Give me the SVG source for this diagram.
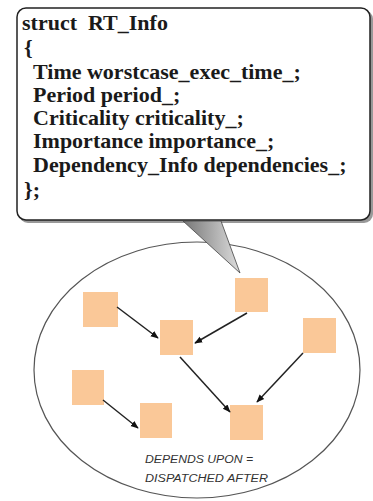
<svg xmlns="http://www.w3.org/2000/svg" width="373" height="501" viewBox="0 0 373 501">
<defs>
<style>
.code{font-family:"Liberation Serif","Times New Roman",serif;font-weight:bold;font-size:22px;fill:#1a1a1a}
.task{fill:#FAC898}
.conn{stroke:#222;stroke-width:1.5;fill:none;marker-end:url(#ah)}
.note{font-family:"Liberation Sans",Arial,sans-serif;font-style:italic;font-size:10px;fill:#333}
</style>
<marker id="ah" viewBox="0 0 10 10" refX="9" refY="5" markerWidth="8" markerHeight="8" orient="auto" markerUnits="userSpaceOnUse">
<path d="M0,1 L10,5 L0,9 z" fill="#111"/>
</marker>
<linearGradient id="tailg" x1="0" y1="0" x2="1" y2="0">
<stop offset="0" stop-color="#777"/>
<stop offset="0.5" stop-color="#aaa"/>
<stop offset="1" stop-color="#ddd"/>
</linearGradient>
</defs>
<rect width="373" height="501" fill="#fff"/>
<g id="cluster">
<ellipse cx="197" cy="370" rx="163" ry="128" fill="none" stroke="#555" stroke-width="1.2"/>
<text class="note" x="145" y="463" textLength="108" lengthAdjust="spacingAndGlyphs">DEPENDS UPON =</text>
<text class="note" x="145" y="482" textLength="123" lengthAdjust="spacingAndGlyphs">DISPATCHED AFTER</text>
</g>
<g id="callout">
<rect x="19" y="10" width="354" height="213" rx="9" fill="#999"/>
<rect x="17" y="8" width="353" height="212" rx="9" fill="#fff" stroke="#222" stroke-width="1.5"/>
<path d="M183,221 L221,221 L240,273 Z" fill="url(#tailg)" stroke="#444" stroke-width="0.8"/>
<text class="code" x="22" y="30">struct&#160; RT_Info</text>
<text class="code" x="24" y="55">{</text>
<text class="code" x="33" y="79">Time worstcase_exec_time_;</text>
<text class="code" x="33" y="102">Period period_;</text>
<text class="code" x="33" y="125">Criticality criticality_;</text>
<text class="code" x="33" y="148">Importance importance_;</text>
<text class="code" x="33" y="172">Dependency_Info dependencies_;</text>
<text class="code" x="24" y="197">};</text>
</g>
<g id="t1"><rect class="task" x="83" y="292" width="35" height="35"/></g>
<g id="t2"><rect class="task" x="235" y="278" width="33" height="34"/></g>
<g id="t3"><rect class="task" x="160" y="320" width="33" height="35"/></g>
<g id="t4"><rect class="task" x="303" y="318" width="33" height="35"/></g>
<g id="t5"><rect class="task" x="72" y="370" width="32" height="35"/></g>
<g id="t6"><rect class="task" x="140" y="403" width="32" height="35"/></g>
<g id="t7"><rect class="task" x="230" y="405" width="33" height="35"/></g>
<g id="connectors">
<line class="conn" x1="117" y1="307" x2="158" y2="338"/>
<line class="conn" x1="247" y1="313" x2="195" y2="343"/>
<line class="conn" x1="180" y1="357" x2="230" y2="412"/>
<line class="conn" x1="303" y1="353" x2="257" y2="402"/>
<line class="conn" x1="103" y1="400" x2="138" y2="428"/>
</g>
</svg>
